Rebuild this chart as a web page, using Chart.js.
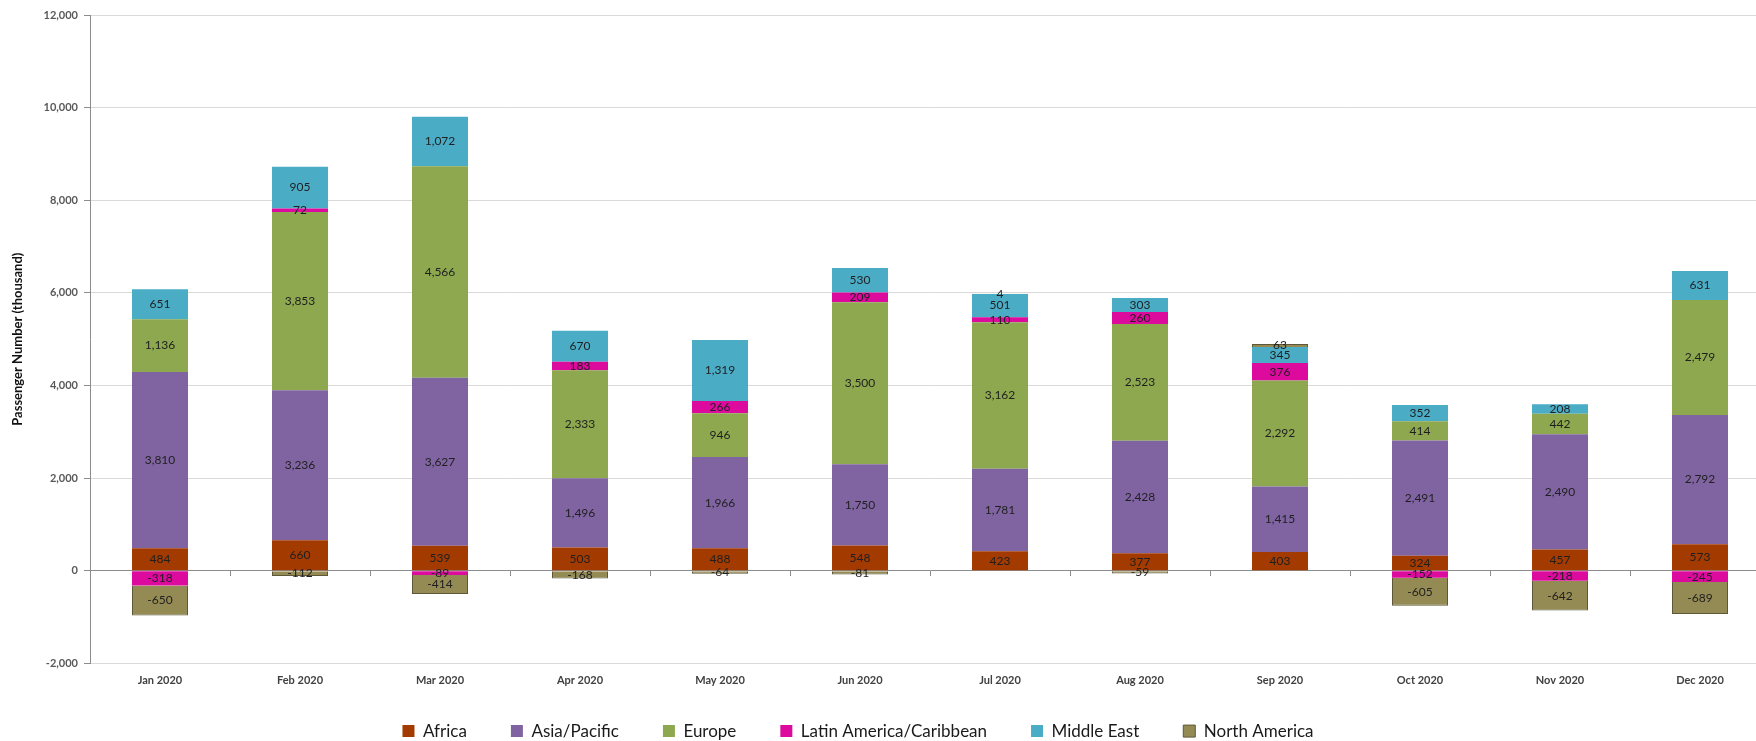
<!DOCTYPE html>
<html>
<head>
<meta charset="utf-8">
<title>Passenger Number 2020</title>
<script src="https://cdn.jsdelivr.net/npm/chart.js@4.4.0/dist/chart.umd.min.js"></script>
<style>
  html, body { margin: 0; padding: 0; background: #fff; overflow: hidden; }
  #wrap { width: 1772px; height: 741px; }
</style>
</head>
<body>
<div id="wrap"><canvas id="passengerChart" width="1772" height="741"></canvas></div>
<script>
// Monthly passenger numbers by region (thousand)
const months = ['Jan 2020', 'Feb 2020', 'Mar 2020', 'Apr 2020', 'May 2020', 'Jun 2020',
                'Jul 2020', 'Aug 2020', 'Sep 2020', 'Oct 2020', 'Nov 2020', 'Dec 2020'];
const africa       = [484, 660, 539, 503, 488, 548, 423, 377, 403, 324, 457, 573];
const asiaPacific  = [3810, 3236, 3627, 1496, 1966, 1750, 1781, 2428, 1415, 2491, 2490, 2792];
const europe       = [1136, 3853, 4566, 2333, 946, 3500, 3162, 2523, 2292, 414, 442, 2479];
const latinAmerica = [-318, 72, -89, 183, 266, 209, 110, 260, 376, -152, -218, -245];
const middleEast   = [651, 905, 1072, 670, 1319, 530, 501, 303, 345, 352, 208, 631];
const northAmerica = [-650, -112, -414, -168, -64, -81, 4, -59, 63, -605, -642, -689];
const yTicks = [-2000, 0, 2000, 4000, 6000, 8000, 10000, 12000];

const FONT = 'Lato';

// value labels in the middle of every segment
const segmentLabels = {
    id: 'segmentLabels',
    afterDatasetsDraw(chart) {
        const ctx = chart.ctx;
        ctx.save();
        ctx.font = '12px ' + FONT;
        ctx.fillStyle = '#1f1f1f';
        ctx.textAlign = 'center';
        ctx.textBaseline = 'middle';
        chart.data.datasets.forEach((ds, i) => {
            const meta = chart.getDatasetMeta(i);
            meta.data.forEach((bar, j) => {
                const v = ds.data[j];
                if (v === null || v === 0) return;
                const p = bar.getProps(['x', 'y', 'base'], true);
                ctx.fillText(v.toLocaleString('en-US'), p.x, (p.y + p.base) / 2);
            });
        });
        ctx.restore();
    }
};

// nudge the legend a bit up and to the left, like the original sheet
const legendNudge = {
    id: 'legendNudge',
    afterLayout(chart) {
        const lg = chart.legend;
        if (!lg) return;
        lg.top -= 18;
        lg.bottom -= 18;
        lg.right -= 54;
    }
};

const ctx = document.getElementById('passengerChart').getContext('2d');
new Chart(ctx, {
    type: 'bar',
    data: {
        labels: months,
        datasets: [
            { label: 'Africa', data: africa, backgroundColor: '#A33B00' },
            { label: 'Asia/Pacific', data: asiaPacific, backgroundColor: '#8064A2' },
            { label: 'Europe', data: europe, backgroundColor: '#8DA84F' },
            { label: 'Latin America/Caribbean', data: latinAmerica, backgroundColor: '#DD0A9E' },
            { label: 'Middle East', data: middleEast, backgroundColor: '#4BACC6' },
            { label: 'North America', data: northAmerica, backgroundColor: '#948A54',
              borderColor: '#5E5838', borderWidth: 1 }
        ]
    },
    options: {
        responsive: false,
        animation: false,
        datasets: {
            bar: { categoryPercentage: 1, barPercentage: 0.4 }
        },
        layout: { padding: { top: 15, right: 2, left: 0, bottom: -26.6 } },
        plugins: {
            tooltip: { enabled: false },
            legend: {
                position: 'bottom',
                labels: {
                    boxWidth: 12,
                    boxHeight: 12,
                    padding: 44,
                    color: '#1a1a1a',
                    font: { family: FONT, size: 17 }
                }
            }
        },
        scales: {
            x: {
                stacked: true,
                grid: { display: false, drawTicks: false, tickLength: 0 },
                border: { display: false },
                ticks: {
                    color: '#404040',
                    padding: 10,
                    font: { family: FONT, size: 11, weight: 'bold' }
                }
            },
            xZero: {
                type: 'category',
                labels: months,
                position: { y: 0 },
                offset: true,
                grid: { offset: true, drawOnChartArea: false, drawTicks: true, tickLength: 5, tickColor: '#8c8c8c' },
                border: { display: true, color: '#8c8c8c', width: 1 },
                ticks: { display: false }
            },
            y: {
                stacked: true,
                min: yTicks[0],
                max: yTicks[yTicks.length - 1],
                afterBuildTicks(axis) { axis.ticks = yTicks.map(v => ({ value: v })); },
                grid: { color: '#d9d9d9', tickColor: '#8c8c8c', tickLength: 6 },
                border: { display: true, color: '#8c8c8c' },
                ticks: {
                    color: '#595959',
                    padding: 6,
                    font: { family: FONT, size: 11, weight: 'bold' },
                    callback: v => v.toLocaleString('en-US')
                },
                title: {
                    display: true,
                    text: 'Passenger Number (thousand)',
                    color: '#111',
                    padding: { top: 10, bottom: 0 },
                    font: { family: FONT, size: 13, weight: 'bold' }
                },
                afterFit(axis) { axis.width = 90; }
            }
        }
    },
    plugins: [segmentLabels, legendNudge]
});
</script>
</body>
</html>
